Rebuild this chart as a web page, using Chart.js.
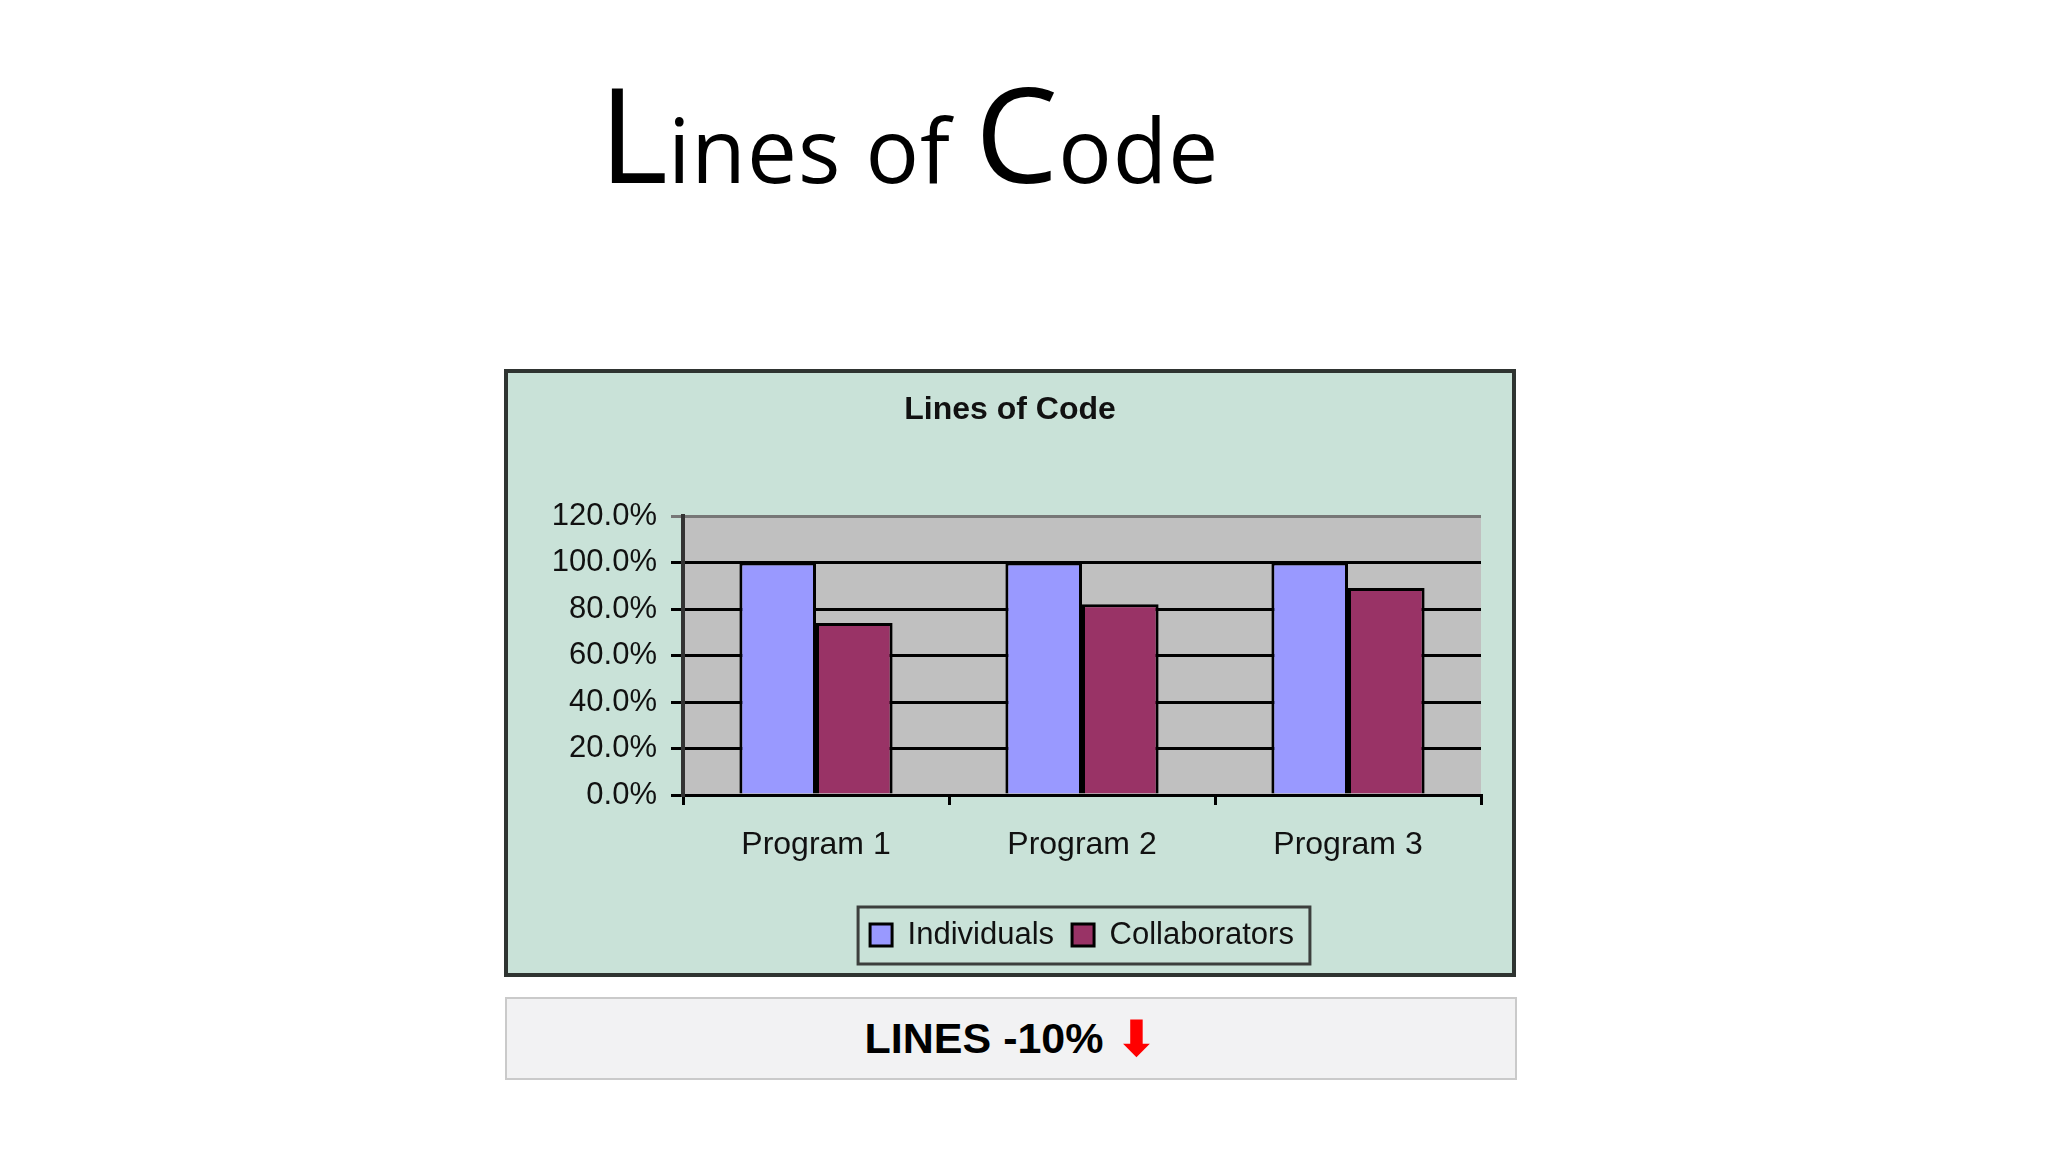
<!DOCTYPE html>
<html>
<head>
<meta charset="utf-8">
<script src="https://cdn.jsdelivr.net/npm/chart.js@4.4.1/dist/chart.umd.min.js"></script>
<style>
  html, body { margin: 0; padding: 0; background: #fff; }
  body { width: 2048px; height: 1152px; position: relative; overflow: hidden; }
  #slide-title {
    position: absolute; left: 599px; top: 66px;
    font-family: "Open Sans", sans-serif; font-weight: 400; color: #000;
    line-height: 1; white-space: nowrap;
  }
  #slide-title .big { font-size: 132px; }
  #slide-title .small { font-size: 89px; letter-spacing: 1px; }
  #chart-box {
    position: absolute; left: 504px; top: 369px; width: 1012px; height: 608px;
    box-sizing: border-box; border: 4px solid #2f3431; background: #c9e2d8;
  }
  #chart-box canvas { display: block; }
  #note {
    position: absolute; left: 505px; top: 997px; width: 1012px; height: 83px;
    box-sizing: border-box; border: 2px solid #cacaca; background: #f2f2f3;
    display: flex; align-items: center; justify-content: center;
    font-family: "Liberation Sans", Arial, sans-serif; font-weight: bold; font-size: 43px; color: #000;
  }
  #note .arrow { color: #f00; font-family: "DejaVu Sans", sans-serif; font-size: 50px; margin-left: 12px; }
</style>
</head>
<body>
<div id="slide-title"><span class="big">L</span><span class="small">ines of </span><span class="big">C</span><span class="small">ode</span></div>
<div id="chart-box"><canvas id="loc-chart" width="1004" height="600"></canvas></div>
<div id="note">LINES -10%<span class="arrow">⬇</span></div>

<script>
// --- data ---
const programs = ['Program 1', 'Program 2', 'Program 3'];
const individuals = [100, 100, 100];
const collaborators = [74, 82, 89];
const yTicks = [0, 20, 40, 60, 80, 100, 120];

const FONT = '"Liberation Sans", Arial, sans-serif';

// grey plot wall behind the bars
const plotWall = {
  id: 'plotWall',
  beforeDraw(chart) {
    const { ctx, chartArea: a } = chart;
    ctx.save();
    ctx.fillStyle = '#c0c0c0';
    ctx.fillRect(a.left, a.top, a.right - a.left, a.bottom - a.top);
    ctx.restore();
  }
};

// Excel puts the legend under the plot area, with a frame round it
const legendFrame = {
  id: 'legendFrame',
  afterLayout(chart) {
    const lg = chart.legend, a = chart.chartArea;
    const off = (a.left + a.right) / 2 - (lg.left + lg.right) / 2;
    lg.left += off;
    lg.right += off;
  },
  afterDraw(chart) {
    const boxes = chart.legend.legendHitBoxes;
    if (!boxes || !boxes.length) return;
    const left = Math.min(...boxes.map(b => b.left)) - 12;
    const right = Math.max(...boxes.map(b => b.left + b.width)) + 16;
    const mid = boxes[0].top + boxes[0].height / 2;
    const ctx = chart.ctx;
    ctx.save();
    ctx.strokeStyle = '#3c3f3d';
    ctx.lineWidth = 3;
    ctx.strokeRect(left, mid - 28, right - left, 57);
    ctx.restore();
  }
};

new Chart(document.getElementById('loc-chart'), {
  type: 'bar',
  data: {
    labels: programs,
    datasets: [{
      label: 'Individuals',
      data: individuals,
      backgroundColor: '#9999ff',
      borderColor: '#000',
      borderWidth: 3
    }, {
      label: 'Collaborators',
      data: collaborators,
      backgroundColor: '#993366',
      borderColor: '#000',
      borderWidth: 3
    }]
  },
  options: {
    responsive: false,
    animation: false,
    devicePixelRatio: 1,
    layout: { padding: { left: 31, right: 31, top: 0, bottom: 12.5 } },
    datasets: { bar: { categoryPercentage: 0.576, barPercentage: 1 } },
    plugins: {
      title: {
        display: true,
        text: 'Lines of Code',
        color: '#111',
        font: { family: FONT, size: 32, weight: 'bold' },
        padding: { top: 18, bottom: 86.6 }
      },
      legend: {
        position: 'bottom',
        labels: {
          color: '#111',
          font: { family: FONT, size: 31 },
          boxWidth: 22,
          boxHeight: 22,
          padding: 18
        }
      },
      tooltip: { enabled: false }
    },
    scales: {
      x: {
        afterFit: (s) => { s.height = 106.5; },
        border: { color: '#000', width: 3 },
        grid: {
          offset: true,
          drawOnChartArea: true,
          color: (c) => c.index === programs.length ? '#8a8a8a' : 'rgba(0,0,0,0)',
          tickColor: '#000',
          lineWidth: 3,
          tickLength: 10
        },
        ticks: { color: '#111', font: { family: FONT, size: 32 }, padding: 21 }
      },
      y: {
        min: yTicks[0],
        max: yTicks[yTicks.length - 1],
        afterFit: (s) => { s.width = 144; },
        afterBuildTicks: (s) => { s.ticks = yTicks.map(v => ({ value: v })); },
        border: { color: '#333', width: 4 },
        grid: {
          color: (c) => c.tick && c.tick.value === 120 ? '#777' : '#000',
          tickColor: (c) => c.tick && c.tick.value === 120 ? '#777' : '#000',
          lineWidth: 3,
          tickLength: 12
        },
        ticks: {
          color: '#111',
          font: { family: FONT, size: 31 },
          padding: 14,
          callback: (v) => v.toFixed(1) + '%'
        }
      }
    }
  },
  plugins: [plotWall, legendFrame]
});
</script>
</body>
</html>
